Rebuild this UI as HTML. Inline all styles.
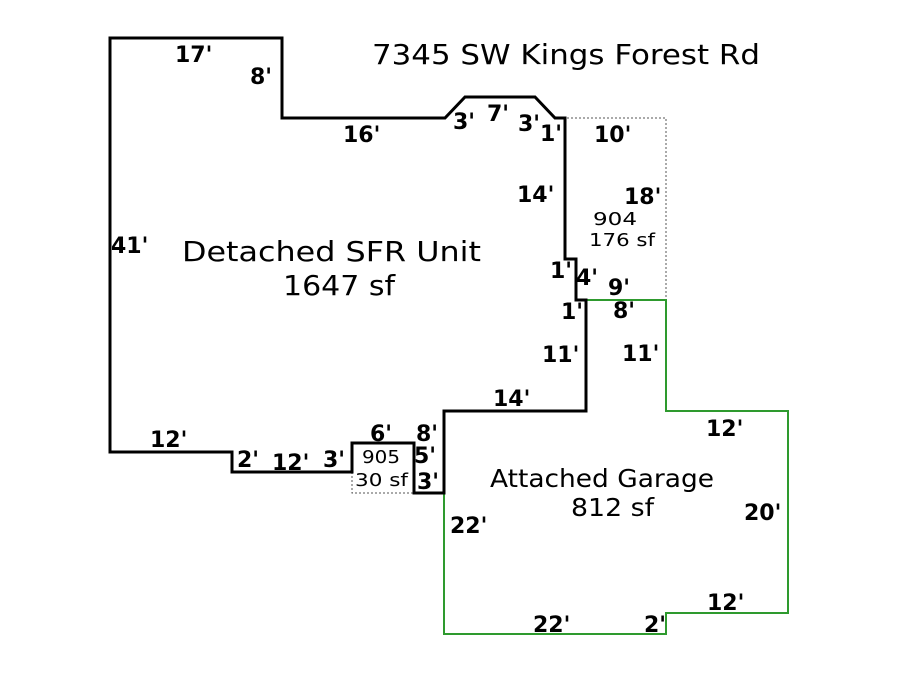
<!DOCTYPE html>
<html><head><style>
html,body{margin:0;padding:0;background:#fff;}
svg text{font-family:"DejaVu Sans","Liberation Sans",sans-serif;}
.b{font-weight:bold;font-size:22px;fill:#000;}
.n{font-size:28px;fill:#000;}
.s{font-size:18px;fill:#000;}
</style></head><body>
<svg width="900" height="675" viewBox="0 0 900 675" xmlns="http://www.w3.org/2000/svg">
<rect width="900" height="675" fill="#fff"/>
<polyline points="555,118 666,118 666,300" fill="none" stroke="#555" stroke-width="1" stroke-dasharray="2,2"/>
<polyline points="352,472 352,493 414,493" fill="none" stroke="#555" stroke-width="1" stroke-dasharray="2,2"/>
<polyline points="585,300 666,300 666,411 788,411 788,613 666,613 666,634 444,634 444,411" fill="none" stroke="#2e9a2e" stroke-width="2"/>
<polygon points="110,38 282,38 282,118 445,118 465,97 535,97 555,118 565,118 565,259 576,259 576,300 586,300 586,411 444,411 444,493 414,493 414,443 352,443 352,472 232,472 232,452 110,452" fill="none" stroke="#000" stroke-width="3"/>
<text x="372" y="64" class="n" textLength="388" lengthAdjust="spacingAndGlyphs">7345 SW Kings Forest Rd</text>
<text x="182" y="261" class="n" textLength="299" lengthAdjust="spacingAndGlyphs">Detached SFR Unit</text>
<text x="283" y="295" class="n" textLength="112" lengthAdjust="spacingAndGlyphs">1647 sf</text>
<text x="490" y="487" style="font-size:25px" textLength="224" lengthAdjust="spacingAndGlyphs">Attached Garage</text>
<text x="571" y="516" style="font-size:25px" textLength="83" lengthAdjust="spacingAndGlyphs">812 sf</text>
<text x="593" y="225" class="s" textLength="44" lengthAdjust="spacingAndGlyphs">904</text>
<text x="589" y="246" class="s" textLength="66" lengthAdjust="spacingAndGlyphs">176 sf</text>
<text x="362" y="463" class="s" textLength="38" lengthAdjust="spacingAndGlyphs">905</text>
<text x="355" y="486" class="s" textLength="53" lengthAdjust="spacingAndGlyphs">30 sf</text>
<text x="175" y="62" class="b">17'</text>
<text x="250" y="84" class="b">8'</text>
<text x="343" y="142" class="b">16'</text>
<text x="453" y="129" class="b">3'</text>
<text x="487" y="121" class="b">7'</text>
<text x="518" y="131" class="b">3'</text>
<text x="540" y="141" class="b">1'</text>
<text x="594" y="142" class="b">10'</text>
<text x="517" y="202" class="b">14'</text>
<text x="624" y="204" class="b">18'</text>
<text x="111" y="253" class="b">41'</text>
<text x="550" y="278" class="b">1'</text>
<text x="576" y="285" class="b">4'</text>
<text x="608" y="295" class="b">9'</text>
<text x="561" y="319" class="b">1'</text>
<text x="613" y="318" class="b">8'</text>
<text x="542" y="362" class="b">11'</text>
<text x="622" y="361" class="b">11'</text>
<text x="493" y="406" class="b">14'</text>
<text x="706" y="436" class="b">12'</text>
<text x="150" y="447" class="b">12'</text>
<text x="237" y="467" class="b">2'</text>
<text x="272" y="470" class="b">12'</text>
<text x="323" y="467" class="b">3'</text>
<text x="370" y="441" class="b">6'</text>
<text x="416" y="441" class="b">8'</text>
<text x="414" y="463" class="b">5'</text>
<text x="417" y="489" class="b">3'</text>
<text x="450" y="533" class="b">22'</text>
<text x="744" y="520" class="b">20'</text>
<text x="707" y="610" class="b">12'</text>
<text x="533" y="632" class="b">22'</text>
<text x="644" y="632" class="b">2'</text>
</svg>
</body></html>
